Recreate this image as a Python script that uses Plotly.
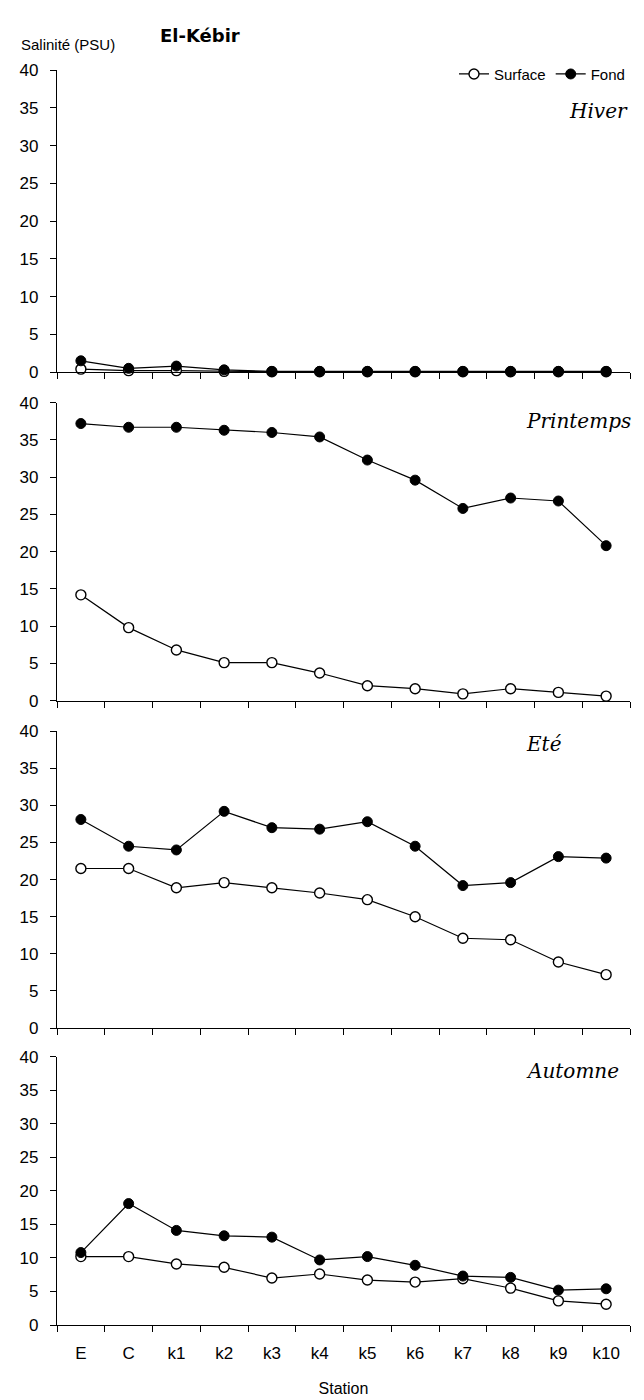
import plotly.graph_objects as go
from plotly.subplots import make_subplots

stations = ["E", "C", "k1", "k2", "k3", "k4", "k5", "k6", "k7", "k8", "k9", "k10"]

hiver_surface = [0.4, 0.2, 0.2, 0.1, 0.05, 0.05, 0.05, 0.05, 0.05, 0.05, 0.05, 0.05]
hiver_fond = [1.5, 0.5, 0.8, 0.3, 0.1, 0.1, 0.1, 0.1, 0.1, 0.1, 0.1, 0.1]

printemps_surface = [14.2, 9.8, 6.8, 5.1, 5.1, 3.7, 2.0, 1.6, 0.9, 1.6, 1.1, 0.6]
printemps_fond = [37.2, 36.7, 36.7, 36.3, 36.0, 35.4, 32.3, 29.6, 25.8, 27.2, 26.8, 20.8]

ete_surface = [21.5, 21.5, 18.9, 19.6, 18.9, 18.2, 17.3, 15.0, 12.1, 11.9, 8.9, 7.2]
ete_fond = [28.1, 24.5, 24.0, 29.2, 27.0, 26.8, 27.8, 24.5, 19.2, 19.6, 23.1, 22.9]

automne_surface = [10.2, 10.2, 9.1, 8.6, 7.0, 7.6, 6.7, 6.4, 6.9, 5.5, 3.6, 3.1]
automne_fond = [10.8, 18.1, 14.1, 13.3, 13.1, 9.7, 10.2, 8.9, 7.3, 7.1, 5.2, 5.4]

seasons = ["Hiver", "Printemps", "Eté", "Automne"]
surface_series = [hiver_surface, printemps_surface, ete_surface, automne_surface]
fond_series = [hiver_fond, printemps_fond, ete_fond, automne_fond]
y_ticks = [0, 5, 10, 15, 20, 25, 30, 35, 40]

W, H = 644, 1400
L, R = 48.5, 622
PW = R - L
panel_px = [(54, 360), (391, 693), (724, 1025), (1054, 1326)]
season_pos = [(622, 95, "right"), (516, 410, "left"), (516, 737, "left"), (516, 1068, "left")]

SANS = "Liberation Sans, Arial"
fig = make_subplots(rows=4, cols=1)

for i in range(4):
    r = i + 1
    fig.add_trace(go.Scatter(
        x=stations, y=surface_series[i], mode="lines+markers", name="Surface",
        line=dict(color="black", width=1.2),
        marker=dict(symbol="circle", size=10, color="white", line=dict(color="black", width=1.4)),
        cliponaxis=False, showlegend=(i == 0)), row=r, col=1)
    fig.add_trace(go.Scatter(
        x=stations, y=fond_series[i], mode="lines+markers", name="Fond",
        line=dict(color="black", width=1.2),
        marker=dict(symbol="circle", size=10, color="black", line=dict(color="black", width=1)),
        cliponaxis=False, showlegend=(i == 0)), row=r, col=1)

for i, (top, bot) in enumerate(panel_px):
    r = i + 1
    fig.update_yaxes(domain=[1 - bot / H, 1 - top / H], range=[0, 40], tickvals=y_ticks,
                     showline=True, linecolor="black", linewidth=1.3, ticks="outside",
                     ticklen=6, tickwidth=1.3, tickcolor="black", showgrid=False, zeroline=False,
                     ticklabelstandoff=8,
                     tickfont=dict(family=SANS, size=17, color="black"),
                     row=r, col=1)
    fig.update_xaxes(type="category", categoryorder="array", categoryarray=stations,
                     range=[-0.5, 11.5], tickson="boundaries", showline=True,
                     linecolor="black", linewidth=1.3, ticks="outside", ticklen=6, tickwidth=1.3,
                     tickcolor="black", showgrid=False, zeroline=False,
                     showticklabels=(r == 4), ticklabelstandoff=12,
                     tickfont=dict(family=SANS, size=17, color="black"),
                     row=r, col=1)
    x, y, anchor = season_pos[i]
    fig.add_annotation(text="<i>" + seasons[i] + "</i>", xref="paper", yref="paper",
                       x=(x - L) / PW, y=1 - y / H, xanchor=anchor, yanchor="middle",
                       showarrow=False,
                       font=dict(family="DejaVu Serif", size=20, color="black"))

fig.update_xaxes(title=dict(text="Station", standoff=21,
                            font=dict(family=SANS, size=16, color="black")),
                 row=4, col=1)

fig.add_annotation(text="Salinité (PSU)", xref="paper", yref="paper",
                   x=(10 - L) / PW, y=1 - 28 / H, xanchor="left", yanchor="middle",
                   showarrow=False,
                   font=dict(family=SANS, size=15, color="black"))
fig.add_annotation(text="<b>El-Kébir</b>", xref="paper", yref="paper",
                   x=(192 - L) / PW, y=1 - 19 / H, xanchor="center", yanchor="middle",
                   showarrow=False,
                   font=dict(family="DejaVu Sans, Verdana", size=18, color="black"))

fig.update_layout(
    width=W, height=H,
    margin=dict(l=L, r=W - R, t=0, b=0),
    paper_bgcolor="white", plot_bgcolor="white",
    legend=dict(orientation="h", x=1.0, xanchor="right", y=1 - 58 / H, yanchor="middle",
                font=dict(family=SANS, size=15, color="black"),
                bgcolor="rgba(0,0,0,0)", itemwidth=30, tracegroupgap=0),
)

fig.write_html("out.html")
